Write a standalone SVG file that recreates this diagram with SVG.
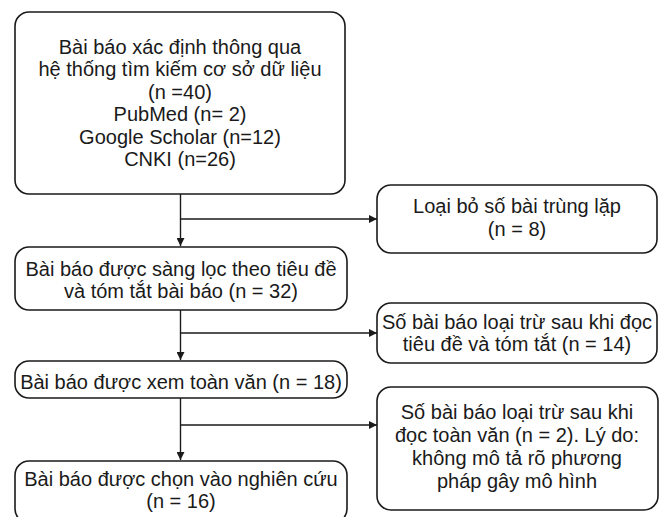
<svg xmlns="http://www.w3.org/2000/svg" width="661" height="517" viewBox="0 0 661 517">
<defs>
<style>
.box{fill:#fff;stroke:#1a1a1a;stroke-width:1.6}
.t{font-family:"Liberation Sans",Arial,sans-serif;font-size:20px;fill:#1a1a1a;text-anchor:middle}
.c{fill:none;stroke:#1a1a1a;stroke-width:1.4}
</style>
<marker id="ah" viewBox="0 0 10 10" refX="10" refY="5" markerWidth="8" markerHeight="8" markerUnits="userSpaceOnUse" orient="auto">
<path d="M0,0 L10,5 L0,10 Z" fill="#1a1a1a"/>
</marker>
</defs>
<rect width="661" height="517" fill="#fff"/>
<g id="connectors">
<path class="c" d="M180.5,194 V246" marker-end="url(#ah)"/>
<path class="c" d="M180.5,219 H377" marker-end="url(#ah)"/>
<path class="c" d="M180.5,310 V360" marker-end="url(#ah)"/>
<path class="c" d="M180.5,333 H377" marker-end="url(#ah)"/>
<path class="c" d="M180.5,398 V460" marker-end="url(#ah)"/>
<path class="c" d="M180.5,425 H377" marker-end="url(#ah)"/>
</g>
<g id="n1">
<rect class="box" x="15" y="12" width="330" height="182" rx="14"/>
<text class="t" x="180" y="54">Bài báo xác định thông qua</text>
<text class="t" x="180" y="76">hệ thống tìm kiếm cơ sở dữ liệu</text>
<text class="t" x="180" y="99">(n =40)</text>
<text class="t" x="180" y="121">PubMed (n= 2)</text>
<text class="t" x="180" y="144">Google Scholar (n=12)</text>
<text class="t" x="180" y="166">CNKI (n=26)</text>
</g>
<g id="n2">
<rect class="box" x="377" y="185" width="280" height="68" rx="14"/>
<text class="t" x="517" y="213">Loại bỏ số bài trùng lặp</text>
<text class="t" x="517" y="236">(n = 8)</text>
</g>
<g id="n3">
<rect class="box" x="15" y="247" width="332" height="63" rx="14"/>
<text class="t" x="181" y="276">Bài báo được sàng lọc theo tiêu đề</text>
<text class="t" x="181" y="298">và tóm tắt bài báo (n = 32)</text>
</g>
<g id="n4">
<rect class="box" x="377" y="303" width="280" height="60" rx="14"/>
<text class="t" x="517" y="329">Số bài báo loại trừ sau khi đọc</text>
<text class="t" x="517" y="351">tiêu đề và tóm tắt (n = 14)</text>
</g>
<g id="n5">
<rect class="box" x="15" y="361" width="332" height="37" rx="14"/>
<text class="t" x="181" y="389">Bài báo được xem toàn văn (n = 18)</text>
</g>
<g id="n6">
<rect class="box" x="377" y="387" width="281" height="123" rx="14"/>
<text class="t" x="517" y="419">Số bài báo loại trừ sau khi</text>
<text class="t" x="517" y="442">đọc toàn văn (n = 2). Lý do:</text>
<text class="t" x="517" y="465">không mô tả rõ phương</text>
<text class="t" x="517" y="488">pháp gây mô hình</text>
</g>
<g id="n7">
<rect class="box" x="15" y="461" width="332" height="62" rx="14"/>
<text class="t" x="181" y="486">Bài báo được chọn vào nghiên cứu</text>
<text class="t" x="181" y="508">(n = 16)</text>
</g>
</svg>
